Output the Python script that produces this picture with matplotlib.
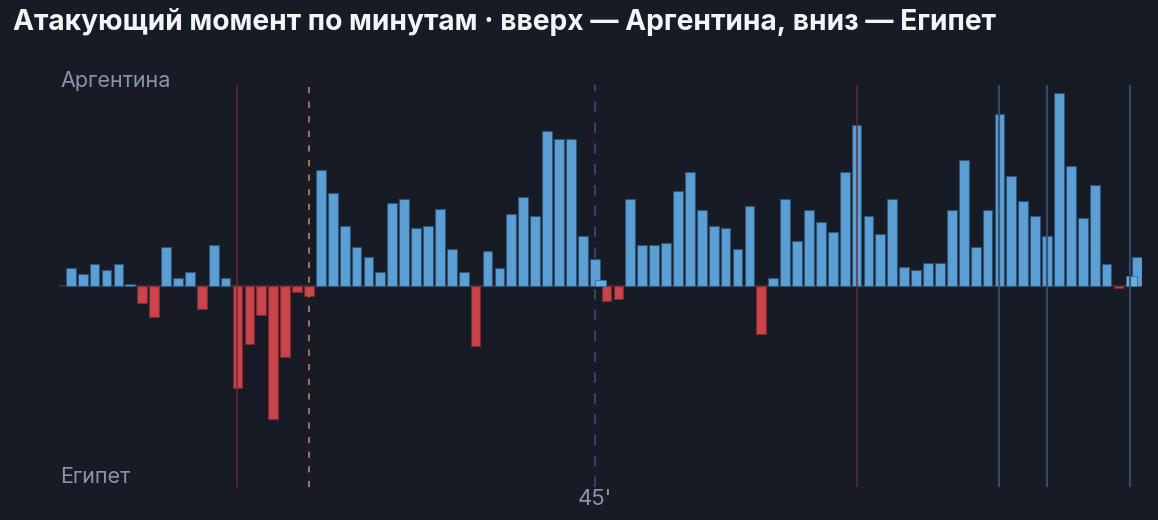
import matplotlib
matplotlib.use("Agg")
import matplotlib.pyplot as plt
import numpy as np

# attacking momentum per minute: positive = Argentina, negative = Egypt
minutes = list(range(1, 90)) + [90.55]
momentum = [
    9, 6, 11, 8, 11, 1, -8.5, -15.5, 19.5, 4,
    7, -11.5, 20.5, 4, -51, -29, -14.5, -66.5, -35.5, -3,
    -5, 58, 46.5, 30, 19.5, 14.5, 7, 41.5, 43.5, 29,
    30, 38.5, 18.5, 7, -30, 17.5, 9, 36, 44.5, 35,
    77.5, 73.5, 73.5, 25, 13.5, -7.5, -6.5, 43.5, 20.5, 20.5,
    21.5, 47.5, 57, 38, 30, 29, 18.5, 40, -24, 4,
    43.5, 22.5, 38, 32, 27, 57, 80.5, 35, 26, 43.5,
    9.5, 8, 11.5, 11.5, 38, 63, 19.5, 38, 86, 55,
    42.5, 35, 25, 96.5, 60, 34, 50.5, 10.75, -1, 14.5,
]
# stoppage-time bars (drawn lighter)
stoppage_x = [45.5, 90.1]
stoppage_vals = [3, 5]

# event markers
egypt_lines = [15, 67]
arg_lines = [79, 83, 90]
orange_line = 21
half_time = 45

BG = "#161b26"
BLUE = "#5b9fd4"
RED = "#c9444b"

plt.rcParams["font.family"] = ["Inter", "DejaVu Sans"]

fig = plt.figure(figsize=(11.58, 5.2), dpi=100, facecolor=BG)
ax = fig.add_axes([58.9 / 1158, 33.3 / 520, 1083.4 / 1158, 401.7 / 520])
ax.set_facecolor(BG)

vals = np.array(momentum)
cols = [BLUE if v >= 0 else RED for v in vals]
edges = ["#2f5576" if v >= 0 else "#7a2a30" for v in vals]
ax.bar(minutes, vals, width=0.82, color=cols, edgecolor=edges, linewidth=0.8, zorder=2)
ax.bar(stoppage_x, stoppage_vals, width=0.9, color="#6aaee0", edgecolor="#3d6a8f",
       linewidth=0.6, zorder=3)

ax.axhline(0, color="#2e3a4c", lw=1.2, zorder=1)

for m in egypt_lines:
    ax.axvline(m, color="#6e2832", lw=1.3, alpha=0.8, zorder=4)
for m in arg_lines:
    ax.axvline(m, color="#35506d", lw=1.6, alpha=0.9, zorder=4)
ax.axvline(orange_line, color="#a0704a", lw=1.5, ls=(0, (3, 4)), zorder=4)
ax.axvline(half_time, color="#34445a", lw=1.5, ls=(0, (5, 5)), zorder=1)

ax.set_xlim(0, 91)
ax.set_ylim(-100.35, 100.35)
ax.axis("off")

fig.text(13 / 1158, 1 - 22 / 520, "Атакующий момент по минутам · вверх — Аргентина, вниз — Египет",
         color="#f2f4f7", fontsize=20.3, fontweight="bold", va="center", ha="left")
fig.text(60 / 1158, 1 - 81 / 520, "Аргентина", color="#8a95a3", fontsize=15.5,
         va="center", ha="left")
fig.text(60 / 1158, 1 - 477 / 520, "Египет", color="#8a95a3", fontsize=15.5,
         va="center", ha="left")
fig.text(595 / 1158, 1 - 499 / 520, "45'", color="#8a95a3", fontsize=16,
         va="center", ha="center")

fig.savefig("out.png", dpi=100, facecolor=BG)
